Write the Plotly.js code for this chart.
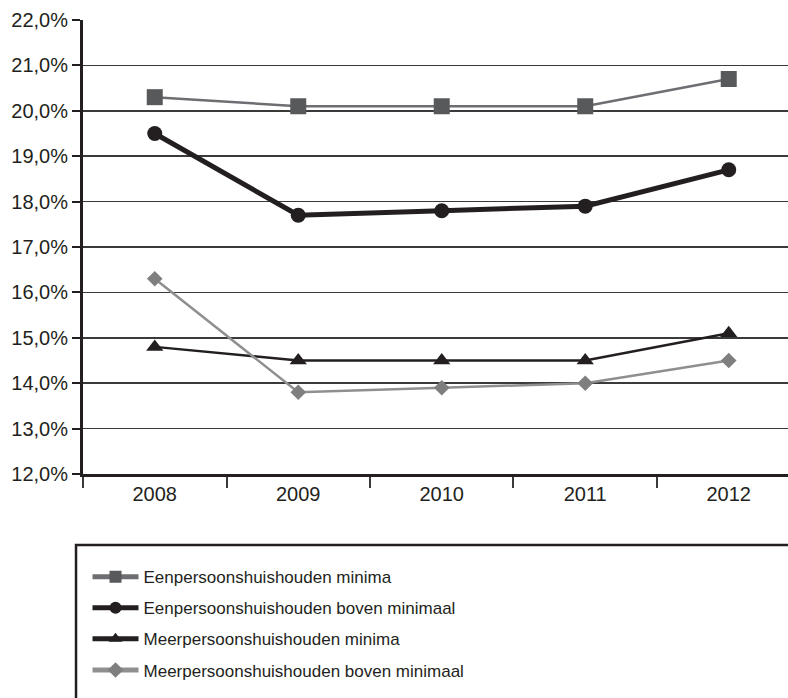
<!DOCTYPE html>
<html>
<head>
<meta charset="utf-8">
<script src="https://cdn.plot.ly/plotly-3.0.1.min.js"></script>
<style>html,body{margin:0;padding:0;background:#fff;}#chart{width:788px;height:698px;}</style>
</head>
<body>
<div id="chart"></div>
<script>
const years = ['2008', '2009', '2010', '2011', '2012'];
const seriesNames = [
  'Eenpersoonshuishouden minima',
  'Eenpersoonshuishouden boven minimaal',
  'Meerpersoonshuishouden minima',
  'Meerpersoonshuishouden boven minimaal'
];
const eenMinima = [20.3, 20.1, 20.1, 20.1, 20.7];
const eenBoven = [19.5, 17.7, 17.8, 17.9, 18.7];
const meerMinima = [14.8, 14.5, 14.5, 14.5, 15.1];
const meerBoven = [16.3, 13.8, 13.9, 14.0, 14.5];
const yTicks = [12, 13, 14, 15, 16, 17, 18, 19, 20, 21, 22];
const yTickText = ['12,0%', '13,0%', '14,0%', '15,0%', '16,0%', '17,0%', '18,0%', '19,0%', '20,0%', '21,0%', '22,0%'];

const styles = [
  {line: {color: '#6d6e71', width: 2.5}, marker: {symbol: 'square', size: 16, color: '#58595b'}},
  {line: {color: '#231f20', width: 5}, marker: {symbol: 'circle', size: 15, color: '#231f20'}},
  {line: {color: '#231f20', width: 2.5}, marker: {symbol: 'triangle-up', size: 15, color: '#231f20'}},
  {line: {color: '#8f8f8f', width: 2.5}, marker: {symbol: 'diamond', size: 12, color: '#7f7f7f'}}
];
const values = [eenMinima, eenBoven, meerMinima, meerBoven];

const traces = values.map((v, i) => ({
  x: years, y: v, name: seriesNames[i], type: 'scatter', mode: 'lines+markers',
  line: styles[i].line, marker: styles[i].marker, legendgroup: 'g' + i,
  cliponaxis: false
}));

const font = 'Liberation Sans, Arial, sans-serif';
const layout = {
  width: 788, height: 698,
  margin: {l: 83, r: 0, t: 20, b: 224},
  paper_bgcolor: '#fff', plot_bgcolor: '#fff',
  showlegend: true,
  font: {family: font, color: '#231f20', size: 20},
  xaxis: {
    type: 'category', range: [-0.5, 4.413], tickson: 'boundaries',
    ticks: 'outside', ticklen: 11, tickwidth: 2, tickcolor: '#3a3a3a',
    showgrid: false, showline: true, linecolor: '#231f20', linewidth: 3,
    tickfont: {size: 20, family: font, color: '#231f20'}, zeroline: false, fixedrange: true
  },
  yaxis: {
    range: [12, 22], tickmode: 'array', tickvals: yTicks, ticktext: yTickText,
    ticks: 'outside', ticklen: 8, tickwidth: 2, tickcolor: '#231f20',
    showgrid: true, gridcolor: '#3a3a3a', gridwidth: 1.5,
    showline: true, linecolor: '#231f20', linewidth: 3, zeroline: false,
    tickfont: {size: 20, family: font, color: '#231f20'}, fixedrange: true
  },
  legend: {
    x: 0.0064, xanchor: 'left', y: -0.1874, yanchor: 'top',
    bgcolor: 'rgba(0,0,0,0)', borderwidth: 0, tracegroupgap: 6,
    font: {family: font, size: 17, color: '#231f20'},
    itemwidth: 46, itemsizing: 'constant', traceorder: 'grouped'
  },
  shapes: [{
    type: 'rect', xref: 'paper', yref: 'paper',
    x0: -0.0099, x1: 1.2, y0: -0.1564, y1: -0.8,
    line: {color: '#231f20', width: 2.5}, fillcolor: 'rgba(0,0,0,0)', layer: 'below'
  }]
};

Plotly.newPlot('chart', traces, layout, {displayModeBar: false, staticPlot: true});
</script>
</body>
</html>
